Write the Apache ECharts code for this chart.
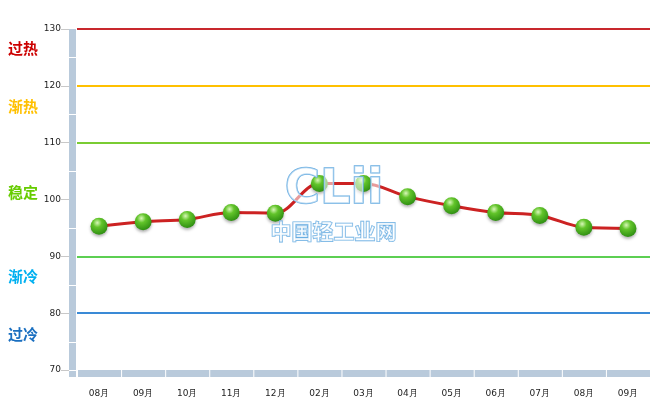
<!DOCTYPE html>
<html><head><meta charset="utf-8">
<script src="https://cdn.jsdelivr.net/npm/echarts@6/dist/echarts.min.js"></script>
<style>html,body{margin:0;padding:0;background:#fff}#c{width:667px;height:412px}</style>
</head><body><div id="c"></div>
<script>
var categories = ['08月','09月','10月','11月','12月','02月','03月','04月','05月','06月','07月','08月','09月'];
var values = [95.3, 96.1, 96.5, 97.7, 97.6, 102.8, 102.8, 100.5, 98.9, 97.7, 97.2, 95.1, 94.9];
var levelValues = [130, 120, 110, 90, 80];
var levelColors = ['#c8282d', '#ffc000', '#7acc33', '#5ccf52', '#3a8ad6'];
var zoneNames = ['过热', '渐热', '稳定', '渐冷', '过冷'];
var zoneColors = ['#cc0000', '#ffc000', '#66cc00', '#00b0f0', '#1a6fc0'];
var zoneY = [49, 107, 193, 277, 335];
var yMin = 70, yMax = 130, yStep = 10;

var chart = echarts.init(document.getElementById('c'));
var ball = {
  type: 'radial', x: 0.4, y: 0.3, r: 0.75,
  colorStops: [{offset: 0, color: '#d8f7b8'}, {offset: 0.35, color: '#62c42a'}, {offset: 1, color: '#2a8a10'}]
};
var option = {
  animation: false,
  grid: {left: 77, right: 17, top: 29, bottom: 42},
  xAxis: {
    type: 'category', data: categories, boundaryGap: true,
    axisLine: {show: false}, axisTick: {show: false},
    axisLabel: {margin: 19, fontSize: 9, color: '#222', fontFamily: 'DejaVu Sans'},
    splitLine: {show: false}
  },
  yAxis: {
    type: 'value', min: yMin, max: yMax, interval: yStep, offset: 8,
    axisLine: {show: false},
    axisTick: {show: true, length: 8, lineStyle: {color: '#c8c8c8'}},
    axisLabel: {margin: 8, fontSize: 9, color: '#222', fontFamily: 'DejaVu Sans'},
    splitLine: {show: false}
  },
  series: [{
    type: 'line', data: values, smooth: 0.35, z: 5,
    lineStyle: {color: '#cc2222', width: 3},
    symbol: 'circle', symbolSize: 17,
    itemStyle: {color: ball, shadowColor: 'rgba(0,0,0,0.3)', shadowBlur: 3, shadowOffsetY: 2},
    markLine: {
      silent: true, symbol: 'none', label: {show: false}, z: 2,
      data: levelValues.map(function (v, i) {
        return {yAxis: v, lineStyle: {color: levelColors[i], width: 2, type: 'solid'}};
      })
    }
  }]
};
chart.setOption(option);

var yTop = chart.convertToPixel({yAxisIndex: 0}, yMax);
var yBot = chart.convertToPixel({yAxisIndex: 0}, yMin);
var x0 = chart.convertToPixel({xAxisIndex: 0}, 0);
var x1 = chart.convertToPixel({xAxisIndex: 0}, 1);
var band = x1 - x0;
var gLeft = x0 - band / 2;
var wallColor = '#b9cadb';
var gfx = [];
gfx.push({type: 'rect', shape: {x: gLeft - 8, y: yTop, width: 7, height: yBot - yTop + 7}, style: {fill: wallColor}, z: 1});
for (var v = yMin + 5; v < yMax; v += yStep) {
  var yy = Math.round(chart.convertToPixel({yAxisIndex: 0}, v)) + 0.5;
  gfx.push({type: 'line', shape: {x1: gLeft - 8, y1: yy, x2: gLeft - 1, y2: yy}, style: {stroke: '#fff', lineWidth: 1}, z: 2});
}
gfx.push({type: 'line', shape: {x1: gLeft - 8, y1: yBot + 0.5, x2: gLeft - 1, y2: yBot + 0.5}, style: {stroke: '#fff', lineWidth: 1}, z: 2});
for (var i = 0; i < categories.length; i++) {
  var cx = chart.convertToPixel({xAxisIndex: 0}, i);
  gfx.push({type: 'rect', shape: {x: cx - band / 2 + 1, y: yBot, width: band - 1, height: 7}, style: {fill: wallColor}, z: 1});
}
for (var k = 0; k < zoneNames.length; k++) {
  gfx.push({type: 'text', left: 8, top: zoneY[k] - 8, style: {text: zoneNames[k], fill: zoneColors[k], font: 'bold 15px "Noto Sans CJK SC"'}, z: 10});
}
gfx.push({type: 'text', left: 284, top: 166, z: 20, style: {text: 'CLii', fill: 'rgba(255,255,255,0.55)', stroke: '#6aaee2', lineWidth: 1.5, font: 'bold 48px "DejaVu Sans"'}});
gfx.push({type: 'text', left: 270, top: 220, z: 20, style: {text: '中国轻工业网', fill: 'rgba(255,255,255,0.6)', stroke: '#6aaee2', lineWidth: 1.2, font: 'bold 21px "Noto Sans CJK SC"'}});
chart.setOption({graphic: gfx});
</script>
</body></html>
